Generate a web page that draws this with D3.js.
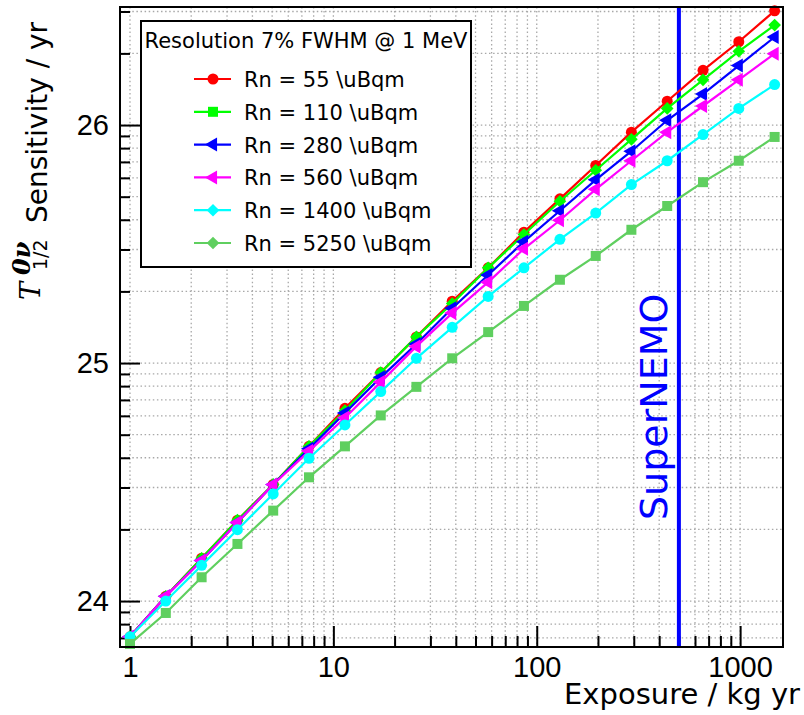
<!DOCTYPE html>
<html>
<head>
<meta charset="utf-8">
<script src="https://cdn.jsdelivr.net/npm/d3@7"></script>
<style>
    body { margin: 0; background: #fff; }
    svg { font-family: "DejaVu Sans", sans-serif; }
    .grid line { stroke: #a8a8a8; stroke-width: 1.3; stroke-dasharray: 1.5,2.6; }
    .axis path { display: none; }
    .axis line { stroke: #000; stroke-width: 2; }
    .axis text { font-size: 29px; fill: #000; }
</style>
</head>
<body>
<div id="chart"></div>
<script>
// Exposure values (kg yr)
var exposure = [1, 1.5, 2.25, 3.375, 5.06, 7.59, 11.4, 17.1, 25.6, 38.4, 57.7, 86.5, 130, 195, 292, 438, 657, 985, 1478];

// log10 of the half-life sensitivity for each radon level
var rn55 = [23.85, 24.02, 24.18, 24.34, 24.49, 24.65, 24.81, 24.96, 25.11, 25.26, 25.40, 25.55, 25.69, 25.83, 25.97, 26.10, 26.23, 26.35, 26.48];
var rn110 = [23.85, 24.02, 24.18, 24.34, 24.49, 24.65, 24.80, 24.96, 25.11, 25.25, 25.40, 25.54, 25.68, 25.81, 25.94, 26.07, 26.19, 26.31, 26.42];
var rn280 = [23.85, 24.02, 24.17, 24.33, 24.49, 24.64, 24.79, 24.94, 25.08, 25.23, 25.37, 25.51, 25.64, 25.77, 25.89, 26.02, 26.13, 26.25, 26.37];
var rn560 = [23.85, 24.02, 24.17, 24.33, 24.49, 24.63, 24.77, 24.92, 25.07, 25.21, 25.34, 25.48, 25.60, 25.73, 25.85, 25.97, 26.08, 26.19, 26.30];
var rn1400 = [23.85, 24.00, 24.15, 24.30, 24.45, 24.60, 24.74, 24.88, 25.02, 25.15, 25.28, 25.40, 25.52, 25.63, 25.75, 25.85, 25.96, 26.07, 26.17];
var rn5250 = [23.82, 23.95, 24.10, 24.24, 24.38, 24.52, 24.65, 24.78, 24.90, 25.02, 25.13, 25.24, 25.35, 25.45, 25.56, 25.66, 25.76, 25.85, 25.95];

var seriesLabels = ["Rn = 55 \\uBqm", "Rn = 110 \\uBqm", "Rn = 280 \\uBqm", "Rn = 560 \\uBqm", "Rn = 1400 \\uBqm", "Rn = 5250 \\uBqm"];
var legendTitle = "Resolution 7% FWHM @ 1 MeV";
var superNemoExposure = 500;

// Styles
var colors = ["#ff0000", "#00ff00", "#0000ff", "#ff00ff", "#00ffff", "#5fcf5f"];
var plotShapes = ["circle", "diamond", "triangle", "triangle", "circle", "square"];
var legendShapes = ["circle", "square", "triangle", "triangle", "diamond", "diamond"];

var allSeries = [rn55, rn110, rn280, rn560, rn1400, rn5250];

document.addEventListener("DOMContentLoaded", function() {
    var w = 804, h = 715;
    var left = 120, right = 783, top = 7, bottom = 647;

    var svg = d3.select("#chart")
        .append("svg")
        .attr("width", w)
        .attr("height", h);

    var xScale = d3.scaleLog().domain([0.893, 1625]).range([left, right]);
    var yScale = d3.scaleLog().domain([Math.pow(10, 23.807), Math.pow(10, 26.496)]).range([bottom, top]);

    var isMajor = d => Math.abs(Math.log10(d) - Math.round(Math.log10(d))) < 1e-6;
    var xTicks = xScale.ticks().filter(d => d >= 1);
    var yTicks = yScale.ticks();

    // Dotted grid at every major and minor tick
    var grid = svg.append("g").attr("class", "grid");
    grid.selectAll(".gx").data(xTicks).enter().append("line")
        .attr("x1", d => xScale(d)).attr("x2", d => xScale(d))
        .attr("y1", top).attr("y2", bottom);
    grid.selectAll(".gy").data(yTicks).enter().append("line")
        .attr("x1", left).attr("x2", right)
        .attr("y1", d => yScale(d)).attr("y2", d => yScale(d));

    // Axes: minor ticks short, major ticks long, pointing inward
    svg.append("g").attr("class", "axis")
        .attr("transform", `translate(0, ${bottom})`)
        .call(d3.axisBottom(xScale).tickValues(xTicks.filter(d => !isMajor(d)))
            .tickSizeInner(-11).tickSizeOuter(0).tickFormat(""));
    svg.append("g").attr("class", "axis")
        .attr("transform", `translate(0, ${bottom})`)
        .call(d3.axisBottom(xScale).tickValues(xTicks.filter(isMajor))
            .tickSizeInner(-21).tickSizeOuter(0).tickPadding(9)
            .tickFormat(d3.format("d")));

    svg.append("g").attr("class", "axis")
        .attr("transform", `translate(${left}, 0)`)
        .call(d3.axisLeft(yScale).tickValues(yTicks.filter(d => !isMajor(d)))
            .tickSizeInner(-10).tickSizeOuter(0).tickFormat(""));
    svg.append("g").attr("class", "axis")
        .attr("transform", `translate(${left}, 0)`)
        .call(d3.axisLeft(yScale).tickValues(yTicks.filter(isMajor))
            .tickSizeInner(-20).tickSizeOuter(0).tickPadding(11)
            .tickFormat(d => Math.round(Math.log10(d))));

    // SuperNEMO exposure marker
    svg.append("line")
        .attr("x1", xScale(superNemoExposure)).attr("x2", xScale(superNemoExposure))
        .attr("y1", top).attr("y2", bottom)
        .attr("stroke", "#0000ff").attr("stroke-width", 4);
    svg.append("text")
        .attr("transform", `translate(${xScale(superNemoExposure) - 12}, 520) rotate(-90)`)
        .attr("font-size", 38)
        .attr("fill", "#0000ff")
        .text("SuperNEMO");

    // Marker generator
    function marker(shape) {
        if (shape === "circle") return d3.symbol().type(d3.symbolCircle).size(95)();
        if (shape === "square") return d3.symbol().type(d3.symbolSquare).size(100)();
        if (shape === "diamond") return d3.symbol().type(d3.symbolSquare).size(80)();
        return d3.symbol().type(d3.symbolTriangle).size(85)();
    }
    function rotation(shape) {
        if (shape === "diamond") return 45;
        if (shape === "triangle") return -90;
        return 0;
    }

    var line = d3.line()
        .x((d, i) => xScale(exposure[i]))
        .y(d => yScale(Math.pow(10, d)));

    allSeries.forEach(function(values, k) {
        svg.append("path")
            .datum(values)
            .attr("fill", "none")
            .attr("stroke", colors[k])
            .attr("stroke-width", 2.2)
            .attr("d", line);
        svg.append("g").selectAll("path")
            .data(values).enter().append("path")
            .attr("d", marker(plotShapes[k]))
            .attr("fill", colors[k])
            .attr("transform", (d, i) => `translate(${xScale(exposure[i])}, ${yScale(Math.pow(10, d))}) rotate(${rotation(plotShapes[k])})`);
    });

    // Frame
    svg.append("rect")
        .attr("x", left).attr("y", top)
        .attr("width", right - left).attr("height", bottom - top)
        .attr("fill", "none").attr("stroke", "#000").attr("stroke-width", 2);

    // Legend
    var legend = svg.append("g");
    legend.append("rect")
        .attr("x", 141).attr("y", 21).attr("width", 330).attr("height", 246)
        .attr("fill", "#fff").attr("stroke", "#000").attr("stroke-width", 2);
    legend.append("text")
        .attr("x", 306).attr("y", 48)
        .attr("text-anchor", "middle")
        .attr("font-size", 21)
        .text(legendTitle);
    seriesLabels.forEach(function(label, k) {
        var ly = 79 + k * 32.8;
        legend.append("line")
            .attr("x1", 194).attr("x2", 231).attr("y1", ly).attr("y2", ly)
            .attr("stroke", colors[k]).attr("stroke-width", 2.2);
        legend.append("path")
            .attr("d", marker(legendShapes[k]))
            .attr("fill", colors[k])
            .attr("transform", `translate(213, ${ly}) rotate(${rotation(legendShapes[k])})`);
        legend.append("text")
            .attr("x", 244).attr("y", ly + 8)
            .attr("font-size", 21)
            .text(label);
    });

    // X axis title
    svg.append("text")
        .attr("x", 800).attr("y", 704)
        .attr("text-anchor", "end")
        .attr("font-size", 29)
        .text("Exposure / kg yr");

    // Y axis title: T^{0nu}_{1/2} Sensitivity / yr
    var yt = svg.append("g").attr("transform", "translate(47, 300) rotate(-90)");
    yt.append("text")
        .attr("x", 0).attr("y", -7)
        .attr("font-family", "DejaVu Serif")
        .attr("font-style", "italic")
        .attr("font-size", 27)
        .text("T");
    yt.append("text")
        .attr("x", 25).attr("y", -17)
        .attr("font-family", "DejaVu Serif")
        .attr("font-style", "italic")
        .attr("font-weight", "bold")
        .attr("font-size", 24)
        .text("0\u03bd");
    yt.append("text")
        .attr("x", 30).attr("y", 0)
        .attr("font-size", 19)
        .text("1/2");
    yt.append("text")
        .attr("x", 77).attr("y", 0)
        .attr("font-size", 28)
        .text("Sensitivity / yr");
});
</script>
</body>
</html>
